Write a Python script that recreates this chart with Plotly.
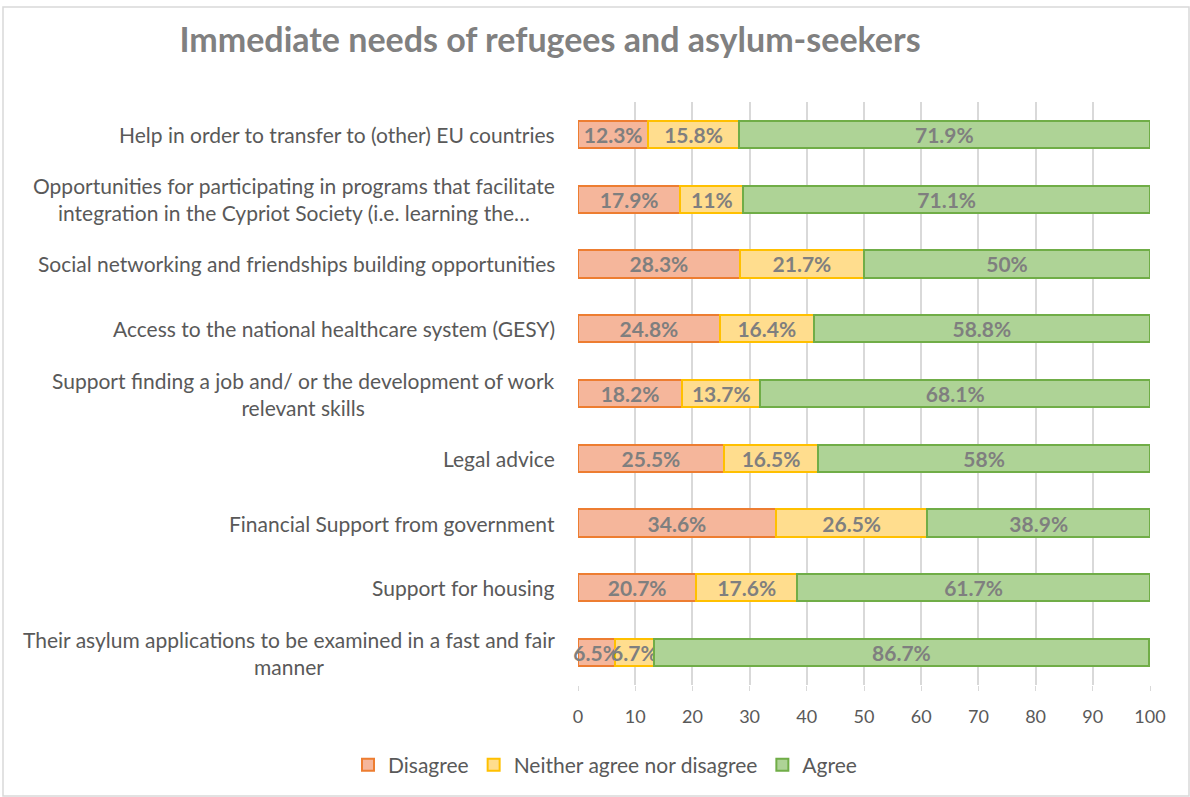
import plotly.graph_objects as go

# Survey items, listed top to bottom
categories = [
    "Help in order to transfer to (other) EU countries",
    "Opportunities for participating in programs that facilitate<br>integration in the Cypriot Society (i.e. learning the…",
    "Social networking and friendships building opportunities",
    "Access to the national healthcare system (GESY)",
    "Support finding a job and/ or the development of work<br>relevant skills",
    "Legal advice",
    "Financial Support from government",
    "Support for housing",
    "Their asylum applications to be examined in a fast and fair<br>manner",
]

disagree = [12.3, 17.9, 28.3, 24.8, 18.2, 25.5, 34.6, 20.7, 6.5]
neither = [15.8, 11, 21.7, 16.4, 13.7, 16.5, 26.5, 17.6, 6.7]
agree = [71.9, 71.1, 50, 58.8, 68.1, 58, 38.9, 61.7, 86.7]

x_ticks = [0, 10, 20, 30, 40, 50, 60, 70, 80, 90, 100]

series = [
    ("Disagree", disagree, "#F5B69B", "#ED7D31"),
    ("Neither agree nor disagree", neither, "#FFDD8E", "#FFC000"),
    ("Agree", agree, "#AED396", "#70AD47"),
]

FONT = "Lato"
GRAY = "#595959"
LABEL_GRAY = "#7F7F7F"

fig = go.Figure()
for name, vals, fill, edge in series:
    fig.add_trace(go.Bar(
        y=categories,
        x=vals,
        name=name,
        orientation="h",
        width=0.42,
        marker=dict(color=fill, line=dict(color=edge, width=2)),
        text=[f"{v:g}%" for v in vals],
        textposition="inside",
        insidetextanchor="middle",
        textangle=0,
        constraintext="none",
        textfont=dict(family=FONT, size=21, color=LABEL_GRAY, weight="bold"),
        cliponaxis=False,
        hoverinfo="x+name",
    ))

# Category labels: centred lines, right-aligned block next to the axis
for cat in categories:
    fig.add_annotation(
        x=-0.0367, xref="paper", y=cat, yref="y",
        text=cat, showarrow=False,
        xanchor="right", yanchor="middle", align="center",
        font=dict(family=FONT, size=21, color=GRAY),
    )

# Outer chart frame
L, R, T, B = 578, 40, 102, 112
W, H = 1190, 797
pw, ph = W - L - R, H - T - B
fig.add_shape(
    type="rect", xref="paper", yref="paper",
    x0=(3 - L) / pw, x1=(1189 - L) / pw,
    y0=((H - B) - 796) / ph, y1=((H - B) - 7) / ph,
    line=dict(color="#D9D9D9", width=1.5), fillcolor="rgba(0,0,0,0)",
    layer="below",
)

fig.update_layout(
    width=W, height=H,
    margin=dict(l=L, r=R, t=T, b=B),
    barmode="stack",
    bargap=0.58,
    plot_bgcolor="white",
    paper_bgcolor="white",
    uniformtext=dict(minsize=21, mode="show"),
    title=dict(
        text="<b>Immediate needs of refugees and asylum-seekers</b>",
        x=550 / W, xanchor="center",
        y=1 - 40 / H, yanchor="middle",
        font=dict(family=FONT, size=34, color="#808080"),
    ),
    legend=dict(
        orientation="h",
        x=(605 - L) / pw, xanchor="center",
        y=((H - B) - 765) / ph, yanchor="middle",
        font=dict(family=FONT, size=21, color=GRAY),
        traceorder="normal",
        itemsizing="constant",
    ),
    showlegend=True,
)

fig.update_xaxes(
    range=[0, 100],
    tickvals=x_ticks,
    showgrid=True, gridcolor="#D9D9D9", gridwidth=1.5,
    ticks="outside", ticklen=5, tickcolor="#D9D9D9",
    ticklabelstandoff=10,
    tickfont=dict(family=FONT, size=18, color=GRAY),
    zeroline=False, showline=False,
)
fig.update_yaxes(
    autorange="reversed",
    showticklabels=False,
    showgrid=False, zeroline=False, showline=False,
)

fig.write_html("out.html")
